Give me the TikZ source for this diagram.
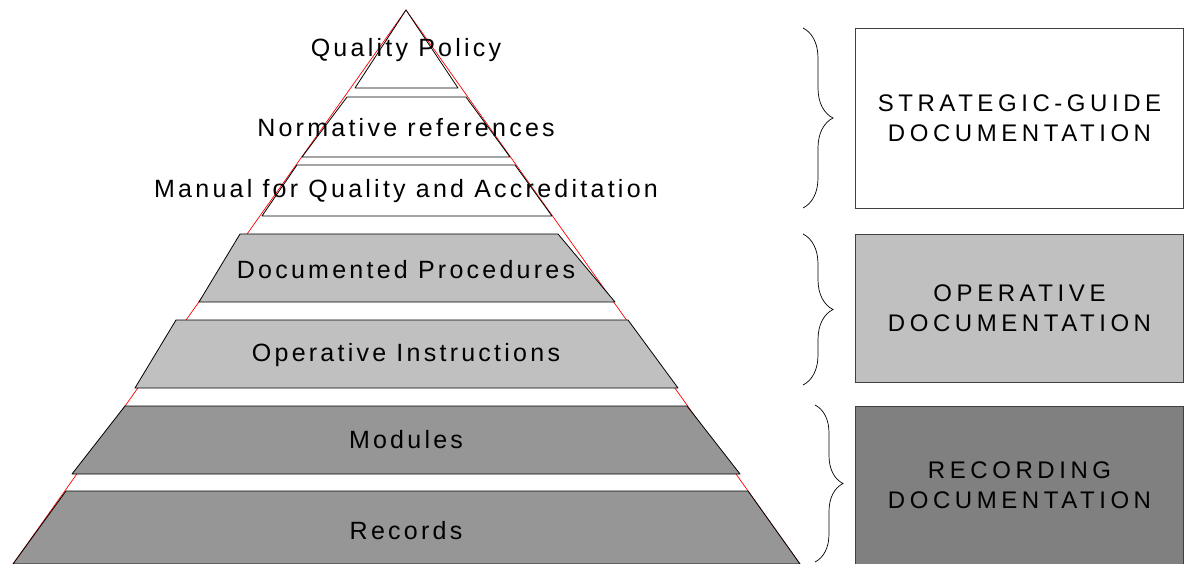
\documentclass[tikz,border=0pt]{standalone}
\usepackage{fontspec}
\setmainfont{Liberation Sans}
\newfontfamily\layerfont[LetterSpace=13]{Liberation Sans}
\newfontfamily\boxfont[LetterSpace=19]{Liberation Sans}
\usetikzlibrary{decorations.pathreplacing,positioning}
\definecolor{lightlayer}{HTML}{C0C0C0}
\definecolor{darklayer}{HTML}{969696}
\definecolor{darkbox}{HTML}{808080}
\tikzset{%
	layer/.style    = {draw=black, line width=0.8pt, line join=round},
	outline/.style  = {draw=red, line width=0.7pt},
	layertext/.style= {font=\fontsize{25}{28}\layerfont, inner sep=0pt},
	docbox/.style   = {draw=black!75, line width=0.8pt, rectangle, minimum width=328, align=center, font=\fontsize{24}{30}\boxfont},
	bracket/.style  = {decorate, decoration={brace, amplitude=30pt}, line width=0.7pt},
}

\begin{document}
\begin{tikzpicture}[x=1pt,y=-1pt]
	\useasboundingbox (0,0) rectangle (1184,564);
	% pyramid
	\draw[outline] (406,10) -- (800,564) -- (13,564) -- cycle;
	\draw[layer,fill=white] (406,10) -- (458,88) -- (355,88) -- cycle;
	\draw[layer,fill=white] (347,97) -- (466,97) -- (510,157) -- (302,157) -- cycle;
	\draw[layer,fill=white] (297,165) -- (515,165) -- (552,216) -- (262,216) -- cycle;
	\draw[layer,fill=lightlayer] (240,234) -- (558,234) -- (615,302) -- (199,302) -- cycle;
	\draw[layer,fill=lightlayer] (176,320) -- (628,320) -- (678,388) -- (135,388) -- cycle;
	\draw[layer,fill=darklayer] (125,406) -- (687,406) -- (740,474) -- (72,474) -- cycle;
	\draw[layer,fill=darklayer] (66,491) -- (748,491) -- (800,564) -- (13,564) -- cycle;

	\node [layertext] (policy) at (406,50) {Quality Policy};
	\node [layertext] (norm) at (406,128) {Normative references};
	\node [layertext] (manual) at (406,191) {Manual for Quality and Accreditation};
	\node [layertext] (proc) at (406,270) {Documented Procedures};
	\node [layertext] (instr) at (406,355) {Operative Instructions};
	\node [layertext] (mod) at (406,440) {Modules};
	\node [layertext] (rec) at (406,531) {Records};

	% documentation levels
	\node [docbox,fill=white,minimum height=180] (strat) at (1019.5,118) {STRATEGIC-GUIDE\\DOCUMENTATION};
	\node [docbox,fill=lightlayer,minimum height=148] (oper) at (1019.5,308) {OPERATIVE\\DOCUMENTATION};
	\node [docbox,fill=darkbox,minimum height=158] (recd) at (1019.5,485) {RECORDING\\DOCUMENTATION};

	\draw[bracket] (803,28) -- (803,208);
	\draw[bracket] (803,234) -- (803,385);
	\draw[bracket,decoration={amplitude=28pt}] (815,405) -- (815,562);
\end{tikzpicture}
\end{document}
